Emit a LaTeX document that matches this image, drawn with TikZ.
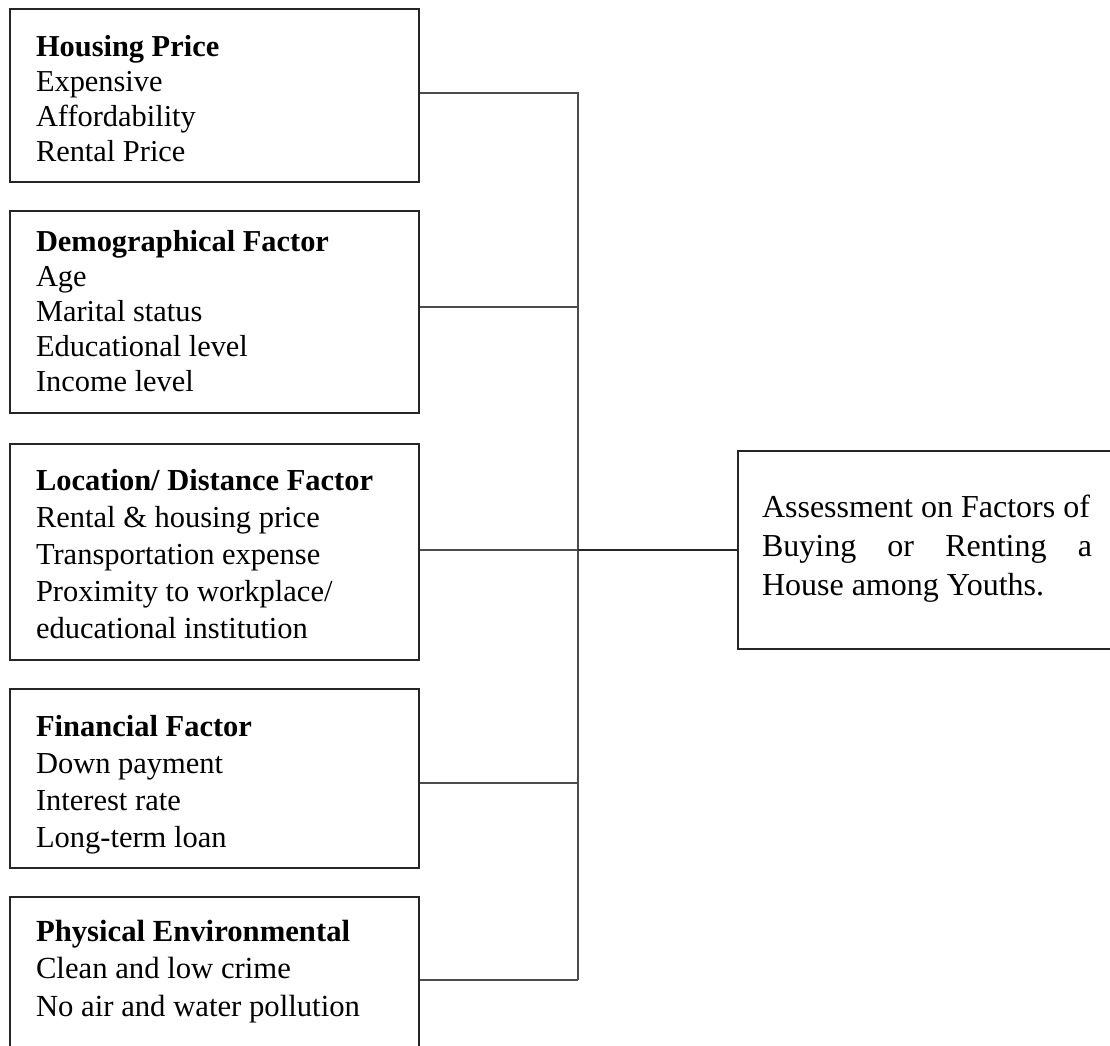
\documentclass[tikz,border=0pt]{standalone}
\usepackage{fontspec}
\setmainfont{Liberation Serif}
\usetikzlibrary{positioning}

\begin{document}
\begin{tikzpicture}[x=1pt, y=-1pt, node distance=27pt,
    factor/.style={draw=black!85, line width=2pt, align=flush left, text width=357pt, inner xsep=26pt, inner ysep=0pt, font=\fontsize{30.4pt}{35pt}\selectfont},
    link/.style={draw=black!70, line width=1.3pt}]

    \clip (0,0) rectangle (1110,1045);

    \node(HP)[factor, anchor=north west, text height=47pt, text depth=126pt] at (9,8)
        {\textbf{Housing Price}\\Expensive\\Affordability\\Rental Price};
    \node(DF)[factor, below=27pt of HP, text height=40pt, text depth=162pt]
        {\textbf{Demographical Factor}\\Age\\Marital status\\Educational level\\Income level};
    \node(LF)[factor, below=29pt of DF, text height=46pt, text depth=170pt, font=\fontsize{30.5pt}{37pt}\selectfont]
        {\textbf{Location/ Distance Factor}\\Rental \& housing price\\Transportation expense\\Proximity to workplace/\\educational institution};
    \node(FF)[factor, below=27pt of LF, text height=47pt, text depth=132pt, font=\fontsize{30.5pt}{37pt}\selectfont]
        {\textbf{Financial Factor}\\Down payment\\Interest rate\\Long-term loan};
    \node(PE)[factor, below=27pt of FF, text height=44pt, text depth=160pt, font=\fontsize{30.7pt}{37.5pt}\selectfont]
        {\textbf{Physical Environmental}\\Clean and low crime\\No air and water pollution};

    \node(AS)[draw=black!85, line width=2pt, anchor=north west, text width=330pt, align=flush left, inner xsep=24pt, inner ysep=0pt, text height=66pt, text depth=132pt, font=\fontsize{32pt}{39pt}\selectfont] at (737,450)
        {Assessment on Factors of\\Buying \hfill or \hfill Renting \hfill a\\House among Youths.};

    \coordinate(T1) at (578,93);
    \coordinate(T2) at (578,307);
    \coordinate(T3) at (578,550);
    \coordinate(T4) at (578,783);
    \coordinate(T5) at (578,980);

    \draw[link] (HP.east |- T1) -- (T1) -- (T5);
    \draw[link] (DF.east |- T2) -- (T2);
    \draw[link] (LF.east |- T3) -- (T3);
    \draw[link] (FF.east |- T4) -- (T4);
    \draw[link] (PE.east |- T5) -- (T5);
    \draw[link, draw=black!85, line width=2pt] (T3) -- (T3 -| AS.west);

\end{tikzpicture}
\end{document}
